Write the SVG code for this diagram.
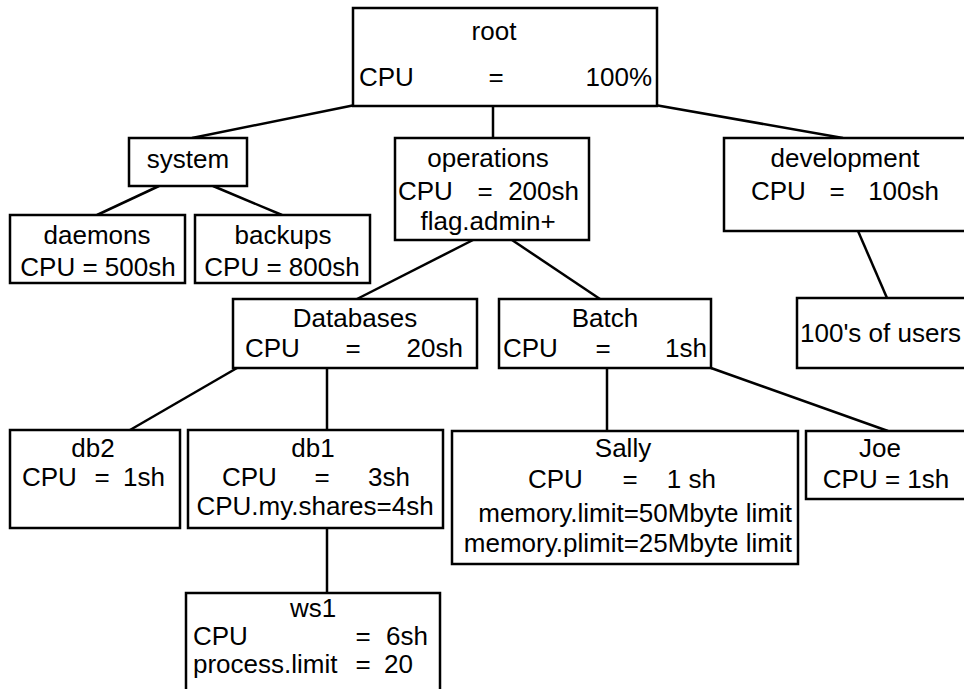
<svg xmlns="http://www.w3.org/2000/svg" width="964" height="689" viewBox="0 0 964 689">
<style>
.box{fill:#fff;stroke:#000;stroke-width:2.5}
.edge{stroke:#000;stroke-width:2.5;fill:none}
text{font-family:"Liberation Sans",Arial,sans-serif;font-size:26px;fill:#000}
.c{text-anchor:middle}
.e{text-anchor:end}
</style>
<rect width="964" height="689" fill="#fff"/>
<g id="connectors">
<line class="edge" x1="355" y1="105" x2="192" y2="138"/>
<line class="edge" x1="493" y1="106" x2="493" y2="138"/>
<line class="edge" x1="655" y1="105" x2="843" y2="138"/>
<line class="edge" x1="159" y1="186" x2="97" y2="215"/>
<line class="edge" x1="213" y1="186" x2="282" y2="215"/>
<line class="edge" x1="473" y1="240" x2="357" y2="299"/>
<line class="edge" x1="512" y1="240" x2="600" y2="299"/>
<line class="edge" x1="858" y1="231" x2="887" y2="298"/>
<line class="edge" x1="237" y1="368" x2="130" y2="430"/>
<line class="edge" x1="327" y1="368" x2="327" y2="430"/>
<line class="edge" x1="607" y1="368" x2="607" y2="431"/>
<line class="edge" x1="711" y1="368" x2="888" y2="431"/>
<line class="edge" x1="327" y1="528" x2="327" y2="593"/>
</g>
<g id="root">
<rect class="box" x="353" y="8" width="304" height="98"/>
<text class="c" x="494" y="40">root</text>
<text y="86"><tspan x="359">CPU</tspan><tspan class="c" x="496">=</tspan><tspan class="e" x="652">100%</tspan></text>
</g>
<g id="system">
<rect class="box" x="129" y="138" width="118" height="48"/>
<text class="c" x="188" y="168">system</text>
</g>
<g id="daemons">
<rect class="box" x="10" y="215" width="175" height="68"/>
<text class="c" x="97" y="244">daemons</text>
<text class="c" x="98" y="276">CPU = 500sh</text>
</g>
<g id="backups">
<rect class="box" x="195" y="215" width="175" height="68"/>
<text class="c" x="283" y="244">backups</text>
<text class="c" x="282" y="276">CPU = 800sh</text>
</g>
<g id="operations">
<rect class="box" x="395" y="138" width="194" height="102"/>
<text class="c" x="488" y="167">operations</text>
<text y="200"><tspan x="398">CPU</tspan><tspan class="c" x="485">=</tspan><tspan class="e" x="579">200sh</tspan></text>
<text class="c" x="488" y="230">flag.admin+</text>
</g>
<g id="development">
<rect class="box" x="724" y="138" width="250" height="93"/>
<text class="c" x="845" y="167">development</text>
<text y="200"><tspan x="751">CPU</tspan><tspan class="c" x="837">=</tspan><tspan class="e" x="939">100sh</tspan></text>
</g>
<g id="users">
<rect class="box" x="797" y="298" width="180" height="70"/>
<text x="800" y="342">100's of users</text>
</g>
<g id="databases">
<rect class="box" x="233" y="299" width="244" height="69"/>
<text class="c" x="355" y="327">Databases</text>
<text y="357"><tspan x="245">CPU</tspan><tspan class="c" x="353">=</tspan><tspan class="e" x="463">20sh</tspan></text>
</g>
<g id="batch">
<rect class="box" x="499" y="299" width="212" height="69"/>
<text class="c" x="605" y="327">Batch</text>
<text y="357"><tspan x="503">CPU</tspan><tspan class="c" x="603">=</tspan><tspan class="e" x="707">1sh</tspan></text>
</g>
<g id="db2">
<rect class="box" x="10" y="430" width="170" height="98"/>
<text class="c" x="93" y="457">db2</text>
<text y="486"><tspan x="22">CPU</tspan><tspan class="c" x="102">=</tspan><tspan class="e" x="165">1sh</tspan></text>
</g>
<g id="db1">
<rect class="box" x="188" y="430" width="255" height="98"/>
<text class="c" x="313" y="457">db1</text>
<text y="486"><tspan x="222">CPU</tspan><tspan class="c" x="322">=</tspan><tspan class="e" x="410">3sh</tspan></text>
<text class="c" x="315" y="515">CPU.my.shares=4sh</text>
</g>
<g id="sally">
<rect class="box" x="452" y="431" width="346" height="133"/>
<text class="c" x="623" y="457">Sally</text>
<text y="488"><tspan x="528">CPU</tspan><tspan class="c" x="630">=</tspan><tspan class="e" x="716">1 sh</tspan></text>
<text class="e" x="792" y="522">memory.limit=50Mbyte limit</text>
<text class="e" x="792" y="552">memory.plimit=25Mbyte limit</text>
</g>
<g id="joe">
<rect class="box" x="806" y="431" width="170" height="68"/>
<text class="c" x="880" y="457">Joe</text>
<text class="c" x="886" y="488">CPU = 1sh</text>
</g>
<g id="ws1">
<rect class="box" x="186" y="593" width="254" height="100"/>
<text class="c" x="313" y="617">ws1</text>
<text y="645"><tspan x="193">CPU</tspan><tspan class="c" x="363">=</tspan><tspan class="e" x="428">6sh</tspan></text>
<text y="673"><tspan x="193">process.limit</tspan><tspan class="c" x="363">=</tspan><tspan class="e" x="413">20</tspan></text>
</g>
</svg>
